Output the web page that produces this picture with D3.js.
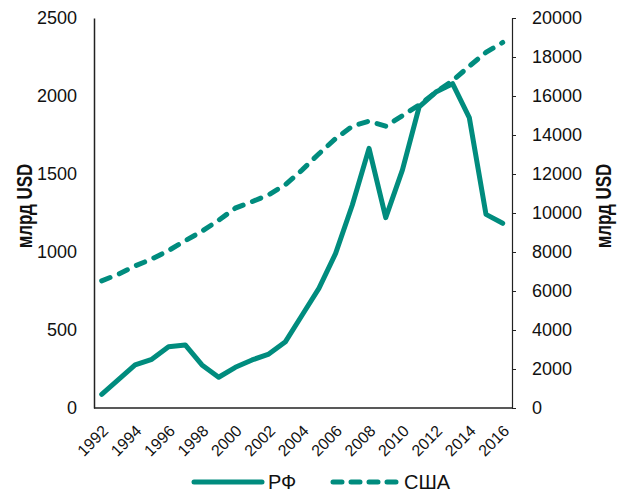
<!DOCTYPE html>
<html><head><meta charset="utf-8">
<script src="https://cdn.jsdelivr.net/npm/d3@7"></script>
<style>body{margin:0;background:#fff}svg{display:block;font-family:"Liberation Sans",Arial,sans-serif}</style>
</head><body><svg id="c" width="620" height="492"></svg>
<script>
const years = [1992,1993,1994,1995,1996,1997,1998,1999,2000,2001,2002,2003,2004,2005,2006,2007,2008,2009,2010,2011,2012,2013,2014,2015,2016];
const rf = [88,182,276,312,393,404,276,197,261,308,346,425,596,767,991,1301,1664,1220,1526,1930,2025,2079,1862,1241,1184];
const usa = [6520,6859,7287,7640,8073,8578,9063,9631,10252,10582,10936,11458,12214,13037,13815,14452,14713,14449,14992,15543,16197,16785,17527,18238,18745];
const leftTicks = [0,500,1000,1500,2000,2500];
const rightTicks = [0,2000,4000,6000,8000,10000,12000,14000,16000,18000,20000];
const xTicks = [1992,1994,1996,1998,2000,2002,2004,2006,2008,2010,2012,2014,2016];
const seriesNames = ["РФ","США"];
const axisTitle = "млрд USD";

const color = "#008C7E";
const svg = d3.select("#c");
const L = 94, R = 512, T = 18, B = 408;
const x = d3.scaleLinear().domain([1992,2016]).range([101.7,502.7]);
const yL = d3.scaleLinear().domain([0,2500]).range([B,T]);
const yR = d3.scaleLinear().domain([0,20000]).range([B,T]);
const fmt = d3.format("d");

// left axis
const gl = svg.append("g").attr("transform",`translate(${L},0)`)
  .call(d3.axisLeft(yL).tickValues(leftTicks).tickFormat(fmt).tickSize(0).tickPadding(17));
gl.select(".domain").attr("stroke","#222").attr("stroke-width",1.5);
gl.selectAll("text").attr("font-size",18).attr("fill","#111").attr("font-family","Liberation Sans, Arial");

// right axis
const gr = svg.append("g").attr("transform",`translate(${R},0)`)
  .call(d3.axisRight(yR).tickValues(rightTicks).tickFormat(fmt).tickSizeInner(4).tickSizeOuter(0).tickPadding(16));
gr.select(".domain").attr("stroke","#222").attr("stroke-width",1.2);
gr.selectAll(".tick line").attr("stroke","#222");
gr.selectAll("text").attr("font-size",18).attr("fill","#111").attr("font-family","Liberation Sans, Arial");

// bottom axis
const gb = svg.append("g").attr("transform",`translate(0,${B})`)
  .call(d3.axisBottom(x).tickValues(xTicks).tickFormat(fmt).tickSize(0).tickPadding(0));
gb.select(".domain").remove();
svg.append("line").attr("x1",L).attr("x2",R).attr("y1",B).attr("y2",B).attr("stroke","#222").attr("stroke-width",1.5);
gb.selectAll("text").attr("font-size",16).attr("fill","#111").attr("font-family","Liberation Sans, Arial")
  .attr("text-anchor","end").attr("dy",null).attr("y",0)
  .attr("transform","translate(7,24) rotate(-45)");

// axis titles
svg.append("text").attr("transform","translate(32,206) rotate(-90) scale(1,1.25)").attr("text-anchor","middle")
  .attr("font-weight","bold").attr("font-size",17).attr("fill","#111").text(axisTitle);
svg.append("text").attr("transform","translate(611,206) rotate(-90) scale(1,1.25)").attr("text-anchor","middle")
  .attr("font-weight","bold").attr("font-size",17).attr("fill","#111").text(axisTitle);

// lines
const lineL = d3.line().x((d,i)=>x(years[i])).y(d=>yL(d));
const lineR = d3.line().x((d,i)=>x(years[i])).y(d=>yR(d));
svg.append("path").attr("d",lineR(usa)).attr("fill","none").attr("stroke",color).attr("stroke-width",5)
  .attr("stroke-dasharray","9 10").attr("stroke-linecap","round");
svg.append("path").attr("d",lineL(rf)).attr("fill","none").attr("stroke",color).attr("stroke-width",5)
  .attr("stroke-linejoin","round").attr("stroke-linecap","round");

// legend
const lg = svg.append("g");
lg.append("line").attr("x1",194).attr("x2",262).attr("y1",482).attr("y2",482).attr("stroke",color).attr("stroke-width",5).attr("stroke-linecap","round");
lg.append("text").attr("x",268).attr("y",489).attr("font-size",20).attr("fill","#111").text(seriesNames[0]);
lg.append("line").attr("x1",333).attr("x2",398).attr("y1",482).attr("y2",482).attr("stroke",color).attr("stroke-width",5)
  .attr("stroke-dasharray","9 9").attr("stroke-linecap","round");
lg.append("text").attr("x",404).attr("y",489).attr("font-size",20).attr("fill","#111").text(seriesNames[1]);
</script></body></html>
